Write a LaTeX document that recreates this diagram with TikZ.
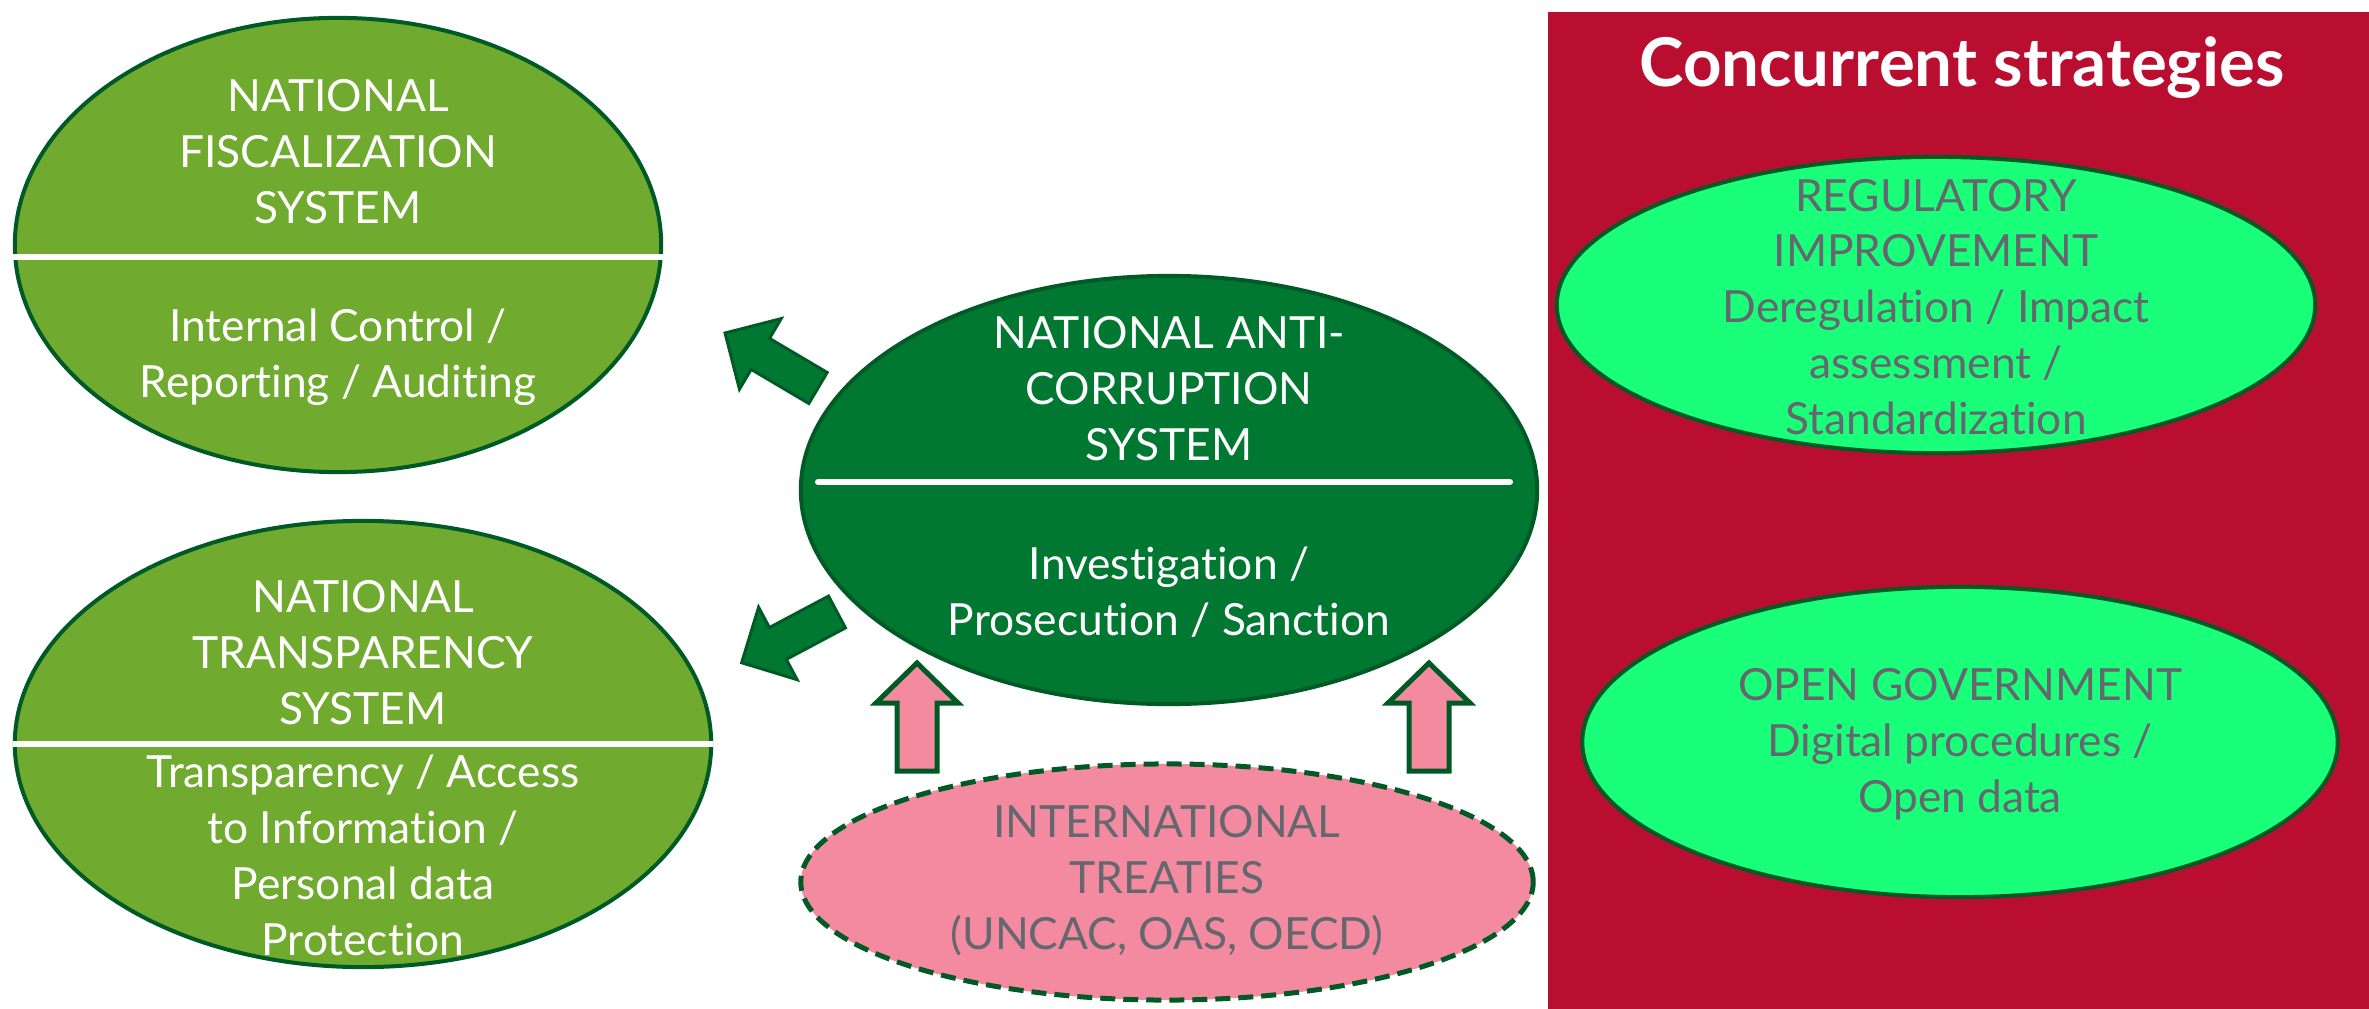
\documentclass[tikz,border=0pt]{standalone}
\usepackage{fontspec}
\setmainfont{Lato}[Ligatures={NoCommon,NoRequired,NoContextual}]
\usetikzlibrary{calc,shapes.geometric}
\definecolor{lgreen}{RGB}{112,170,46}
\definecolor{dgreen}{RGB}{0,120,50}
\definecolor{bordergreen}{RGB}{0,90,38}
\definecolor{crimson}{RGB}{185,14,48}
\definecolor{pinkfill}{RGB}{244,138,160}
\definecolor{brightgreen}{RGB}{26,255,122}
\definecolor{graytext}{RGB}{100,104,110}
\tikzset{
  oval/.style={ellipse, draw=bordergreen, line width=0.04cm, inner sep=0pt},
  txt/.style={align=center, font=\fontsize{12.6}{15.9}\selectfont, inner sep=0pt},
  divider/.style={draw=white, line width=0.06cm},
  greenarrow/.style={fill=dgreen, draw=bordergreen, line width=0.03cm, line join=miter},
  pinkarrow/.style={fill=pinkfill, draw=bordergreen, line width=0.05cm, line join=miter},
}
\begin{document}
\begin{tikzpicture}[x=0.01cm,y=-0.01cm]
\useasboundingbox (0,0) rectangle (2369,1009);
% red panel
\fill[crimson] (1548,12) rectangle (2369,1009);
\node[font=\fontsize{19.1}{22}\selectfont\bfseries, text=white, anchor=base, inner sep=0pt] (title) at (1962,86) {Concurrent strategies};

% fiscalization
\node[oval, fill=lgreen, minimum width=6.46cm, minimum height=4.54cm] (fisc) at (338,245) {};
\draw[divider] ($(fisc.west)+(0,12)$) -- ($(fisc.east)+(0,12)$);
\node[txt, text=white] (fisctop) at (338,152) {NATIONAL\\FISCALIZATION\\SYSTEM};
\node[txt, text=white] (fiscbot) at (338,357) {Internal Control /\\Reporting / Auditing};

% transparency
\node[oval, fill=lgreen, minimum width=6.96cm, minimum height=4.46cm] (transp) at (363,744) {};
\draw[divider] (transp.west) -- (transp.east);
\node[txt, text=white] (transptop) at (363,653) {NATIONAL\\TRANSPARENCY\\SYSTEM};
\node[txt, text=white] (transpbot) at (363,855) {Transparency / Access\\to Information /\\Personal data\\Protection};

% anti-corruption
\node[oval, fill=dgreen, minimum width=7.36cm, minimum height=4.28cm] (anti) at (1169,490) {};
\coordinate (dl) at (818,482);
\coordinate (dr) at (1510,482);
\draw[divider, line cap=round] (dl) -- (dr);
\node[txt, text=white] (antitop) at (1169,389) {NATIONAL ANTI-\\CORRUPTION\\SYSTEM};
\node[txt, text=white] (antibot) at (1169,592) {Investigation /\\Prosecution / Sanction};

% treaties
\node[ellipse, inner sep=0pt, fill=pinkfill, draw=bordergreen, line width=0.05cm, dash pattern=on 0.15cm off 0.08cm, minimum width=7.32cm, minimum height=2.36cm] (treat) at (1167,882) {};
\node[txt, text=graytext] (treattxt) at (1167,881) {INTERNATIONAL\\TREATIES\\(UNCAC, OAS, OECD)};

% regulatory
\node[oval, fill=brightgreen, minimum width=7.58cm, minimum height=2.96cm] (reg) at (1936,305) {};
\node[txt, text=graytext] (regtxt) at (1936,307) {REGULATORY\\IMPROVEMENT\\Deregulation / Impact\\assessment /\\Standardization};

% open government
\node[oval, fill=brightgreen, minimum width=7.55cm, minimum height=3.10cm] (opengov) at (1960,742) {};
\node[txt, text=graytext] (opentxt) at (1960,744) {OPEN GOVERNMENT\\Digital procedures /\\Open data};

% block arrows
\coordinate (ga1) at (818,388);
\coordinate (ga2) at (837,612);
\coordinate (pa1) at (917,771);
\coordinate (pa2) at (1429,771);
\draw[greenarrow, shift={(ga1)}, rotate=149.4] (0,-18) -- (67,-18) -- (67,-41) -- (108,0) -- (67,41) -- (67,18) -- (0,18) -- cycle;
\draw[greenarrow, shift={(ga2)}, rotate=208] (0,-18) -- (67,-18) -- (67,-41) -- (108,0) -- (67,41) -- (67,18) -- (0,18) -- cycle;
\draw[pinkarrow, shift={(pa1)}, rotate=90] (0,-20) -- (68,-20) -- (68,-41) -- (108,0) -- (68,41) -- (68,20) -- (0,20) -- cycle;
\draw[pinkarrow, shift={(pa2)}, rotate=90] (0,-20) -- (68,-20) -- (68,-41) -- (108,0) -- (68,41) -- (68,20) -- (0,20) -- cycle;
\end{tikzpicture}
\end{document}
